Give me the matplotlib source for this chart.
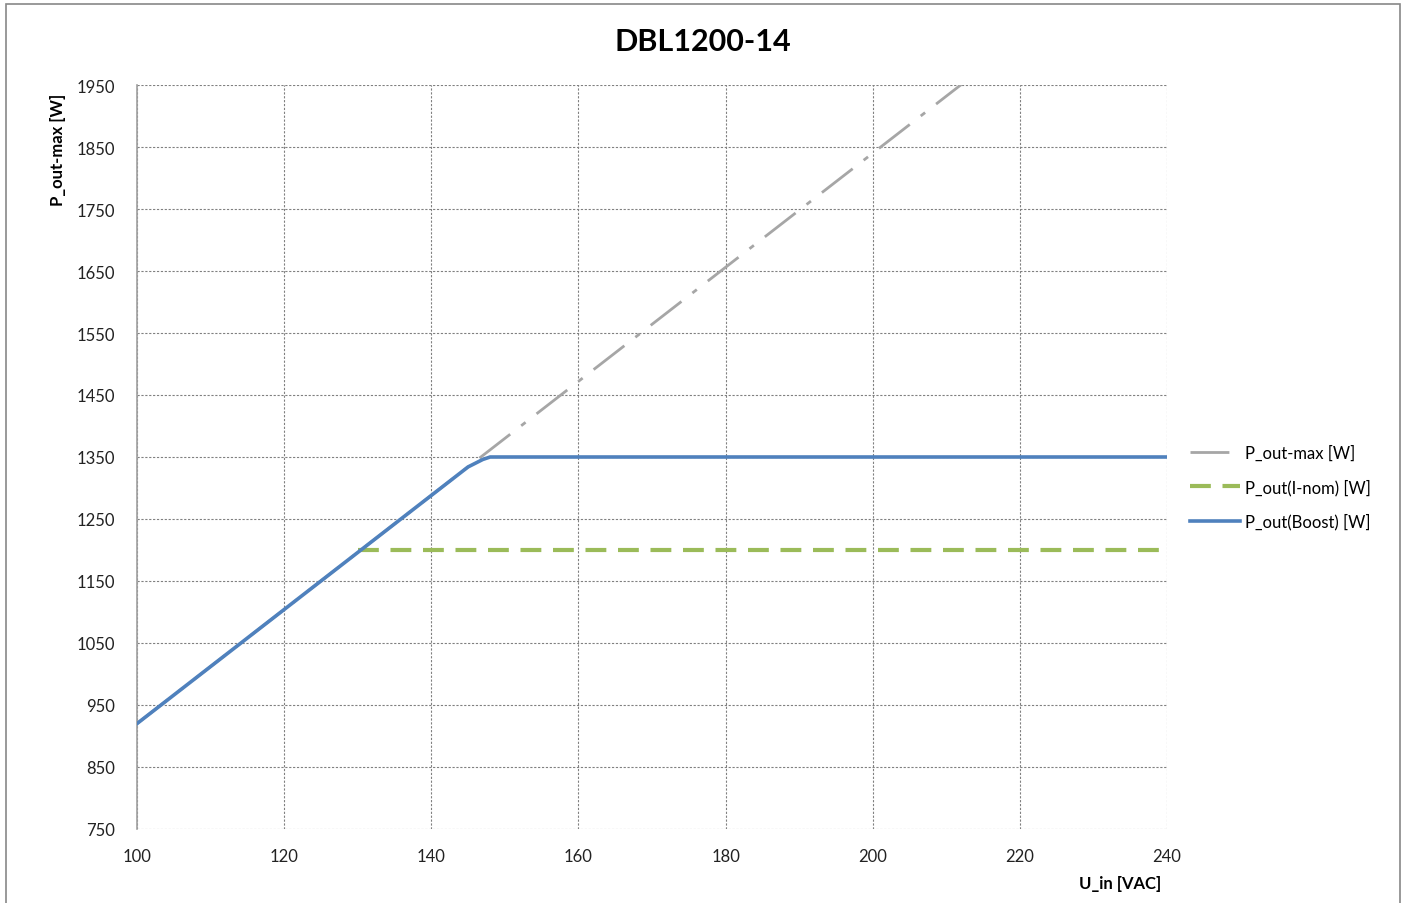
import matplotlib
matplotlib.use("Agg")
import matplotlib.pyplot as plt
from matplotlib.patches import Rectangle

plt.rcParams['font.family'] = ['Lato', 'DejaVu Sans']

title = "DBL1200-14"
x_label = "U_in [VAC]"
y_label = "P_out-max [W]"

u_max = [100, 110, 120, 130, 140, 150, 160, 170, 180, 190, 200, 210, 220]
p_max = [920, 1012, 1104, 1196, 1288, 1380, 1472, 1564, 1656, 1748, 1840, 1932, 2024]

u_nom = [130, 240]
p_nom = [1200, 1200]

u_boost = [100, 110, 120, 130, 140, 145, 147, 148, 240]
p_boost = [920, 1012, 1104, 1196, 1288, 1334, 1346, 1350, 1350]

x_ticks = [100, 120, 140, 160, 180, 200, 220, 240]
y_ticks = [750, 850, 950, 1050, 1150, 1250, 1350, 1450, 1550, 1650, 1750, 1850, 1950]

fig = plt.figure(figsize=(14.04, 9.04), dpi=100)
ax = fig.add_axes([137/1404, 1-830/904, (1167-137)/1404, (830-86)/904])

ax.plot(u_max, p_max, color='#a6a6a6', lw=2.0, dashes=[14, 5, 2, 5],
        label='P_out-max [W]', zorder=2)
ax.plot(u_nom, p_nom, color='#9bbb59', lw=3.0, dashes=[5, 2.8],
        label='P_out(I-nom) [W]', zorder=3)
ax.plot(u_boost, p_boost, color='#4f81bd', lw=2.6,
        label='P_out(Boost) [W]', zorder=4)

ax.set_xlim(100, 240)
ax.set_ylim(750, 1950)
ax.set_xticks(x_ticks)
ax.set_yticks(y_ticks)
ax.tick_params(axis='both', length=0, labelsize=12, colors='#222222')
ax.tick_params(axis='x', pad=14)
ax.tick_params(axis='y', pad=16)

ax.grid(True, color='#808080', lw=0.8, ls=(0, (2, 1.5)))
for s in ['top', 'right', 'bottom']:
    ax.spines[s].set_visible(False)
ax.spines['left'].set_color('#a0a0a0')
ax.spines['left'].set_linewidth(1.2)

fig.text(703/1404, 1-42/904, title, ha='center', va='center',
         fontsize=22, fontweight='bold')
fig.text(58/1404, 1-150/904, y_label, rotation=90, ha='center', va='center',
         fontsize=12, fontweight='bold')
fig.text(1120/1404, 1-884/904, x_label, ha='center', va='center',
         fontsize=12, fontweight='bold')

leg = ax.legend(loc='upper left', bbox_to_anchor=(1175/1404, 1-431/904),
                bbox_transform=fig.transFigure, frameon=False, fontsize=12,
                handlelength=3.0, handletextpad=0.3, labelspacing=1.05)

fig.patches.append(Rectangle((6/1404, -0.02), (1400-6)/1404, 1-5/904+0.02,
                             transform=fig.transFigure, fill=False,
                             edgecolor='#888888', lw=1.2))

fig.savefig("out.png", dpi=100)
